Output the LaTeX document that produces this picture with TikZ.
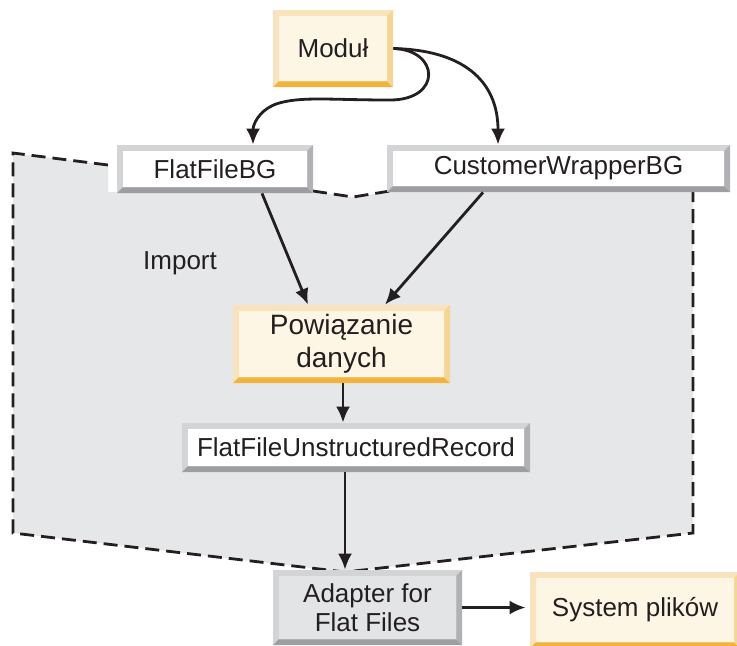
\documentclass[tikz,border=0pt]{standalone}
\usepackage{fontspec}
\setmainfont{Liberation Sans}
\usetikzlibrary{arrows.meta}

\definecolor{regiongray}{HTML}{E6E7E9}
\definecolor{creamface}{HTML}{FDF6E4}
\definecolor{creamlite}{HTML}{F8E3BD}
\definecolor{creammid}{HTML}{F6D491}
\definecolor{creamdark}{HTML}{F2B33D}
\definecolor{graylite}{HTML}{D3D4D6}
\definecolor{graymid}{HTML}{B0B1B4}
\definecolor{graydark}{HTML}{9D9EA1}
\definecolor{adapterface}{HTML}{E3E4E6}
\definecolor{inkcol}{HTML}{231F20}

\tikzset{
  bevel/.style n args={4}{fill=#2, draw=none, inner sep=2pt, align=center,
    text=inkcol, font=\fontsize{13pt}{14.5pt}\selectfont,
    path picture={
      \path (path picture bounding box.south west) coordinate (bvsw)
            (path picture bounding box.south east) coordinate (bvse)
            (path picture bounding box.north east) coordinate (bvne);
      \fill[#4] (bvsw) -- (bvse) -- ([shift={(-2.8pt,2.8pt)}]bvse)
                -- ([shift={(2.8pt,2.8pt)}]bvsw) -- cycle;
      \fill[#3] (bvse) -- (bvne) -- ([shift={(-2.8pt,-2.8pt)}]bvne)
                -- ([shift={(-2.8pt,2.8pt)}]bvse) -- cycle;
      \fill[#1] ([shift={(2.8pt,2.8pt)}]bvsw) rectangle ([shift={(-2.8pt,-2.8pt)}]bvne);
    }},
  creambox/.style={bevel={creamface}{creamlite}{creammid}{creamdark}},
  whitebox/.style={bevel={white}{graylite}{graymid}{graydark}},
  adapterbox/.style={bevel={adapterface}{graylite}{graymid}{graydark}},
  arr/.style={-{Latex[length=8pt,width=7pt]}, line width=1.4pt, inkcol},
  boundary/.style={line width=1.4pt, inkcol, dash pattern=on 7pt off 3.5pt},
}

\begin{document}
\begin{tikzpicture}[x=0.5pt, y=-0.5pt]
  \useasboundingbox (0,0) rectangle (737,645);

  % obszar importu
  \fill[regiongray] (13,153) -- (108,165) -- (108,192) -- (313,192) -- (353,197)
    -- (390,192) -- (693,192) -- (693,533) -- (345,572) -- (13,533) -- cycle;
  \draw[boundary] (108,165) -- (13,153) -- (13,533) -- (345,572) -- (693,533) -- (693,192);
  \draw[boundary] (313,191) -- (353,197) -- (390,191);

  \node[text=inkcol, font=\fontsize{13pt}{14.5pt}\selectfont] (import) at (180,263) {Import};

  % bloki
  \node[creambox, minimum width=60pt, minimum height=38.5pt] (modul) at (333,48.5) {Moduł};
  \node[whitebox, minimum width=98pt, minimum height=24pt] (ffbg) at (215,169) {FlatFileBG};
  \node[whitebox, minimum width=171.5pt, minimum height=23.5pt] (cwbg) at (558.5,168.5) {CustomerWrapperBG};
  \node[creambox, minimum width=108.5pt, minimum height=39pt,
        font=\fontsize{14pt}{16.5pt}\selectfont] (wiazanie) at (341.5,344) {Powiązanie\\danych};
  \node[whitebox, minimum width=174pt, minimum height=24.5pt] (ffur) at (356,447.5) {FlatFileUnstructuredRecord};
  \node[adapterbox, minimum width=94.5pt, minimum height=37.5pt] (adapter) at (367.5,607.5) {Adapter for\\Flat Files};
  \node[creambox, minimum width=105pt, minimum height=38pt] (pliki) at (635,610) {System plików};

  % połączenia
  \draw[arr] (modul.east) .. controls (440,50) and (442,100) .. (390,100)
    .. controls (330,100) and (300,96) .. (276,104)
    .. controls (258,111) and (253,125) .. ([xshift=19pt]ffbg.north);
  \draw[arr] (modul.east) .. controls (462,50) and (498,80) .. ([xshift=-30.25pt]cwbg.north);
  \draw[arr] ([xshift=23.5pt]ffbg.south) -- ([xshift=-16.75pt]wiazanie.north);
  \draw[arr] ([xshift=-37.75pt]cwbg.south) -- ([xshift=21.75pt]wiazanie.north);
  \draw[arr] ([xshift=0.75pt]wiazanie.south) -- ([xshift=-6.5pt]ffur.north);
  \draw[arr] ([xshift=-5.5pt]ffur.south) -- ([xshift=-11.25pt]adapter.north);
  \draw[arr, shorten >=2pt] (adapter.east) -- (adapter.east -| pliki.west);
\end{tikzpicture}
\end{document}
